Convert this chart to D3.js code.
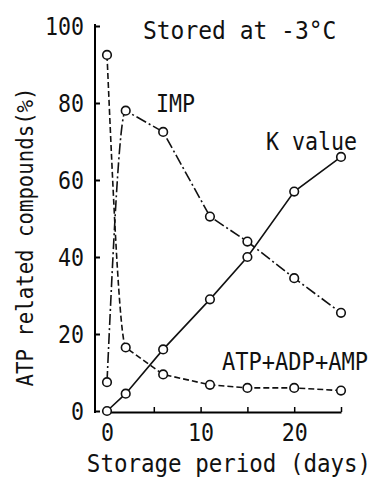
<!DOCTYPE html>
<html>
<head>
<meta charset="utf-8">
<script src="https://d3js.org/d3.v7.min.js"></script>
<style>
  body { margin: 0; background: #fff; }
  text { font-family: "DejaVu Sans Mono", monospace; fill: #111; }
</style>
</head>
<body>
<div id="chart"></div>
<script>
// Storage days and % of ATP related compounds
const days = [0, 2, 6, 11, 15, 20, 25];
const kValue = [0, 4.5, 16, 29, 40, 57, 66];
const imp = [7.5, 78, 72.5, 50.5, 44, 34.5, 25.5];
const atpAdpAmp = [92.5, 16.5, 9.5, 6.8, 6, 6, 5.3];

const xTicks = [0, 5, 10, 15, 20, 25];
const xTickLabels = [0, 10, 20];
const yTicks = [0, 20, 40, 60, 80, 100];

const width = 377, height = 479;
const squeeze = 0.9; // the typewriter lettering is narrow and tall

const svg = d3.select('#chart')
    .append('svg')
    .attr('width', width)
    .attr('height', height);

const x = d3.scaleLinear().domain([0, 25]).range([107, 341]);
const y = d3.scaleLinear().domain([0, 100]).range([411, 26]);

function squeezeText(sel) {
    sel.each(function() {
        const t = d3.select(this);
        const tx = +t.attr('x') || 0;
        t.attr('transform', `translate(${tx},0) scale(${squeeze},1) translate(${-tx},0)`);
    });
}

// y axis sits a bit left of day 0, ticks point inward
const yAxis = svg.append('g')
    .attr('transform', 'translate(95,0)')
    .call(d3.axisLeft(y).tickValues(yTicks).tickSizeInner(-5).tickSizeOuter(0).tickPadding(11));
yAxis.select('.domain').attr('d', 'M0,' + (y(100) - 2) + 'V' + (y(0) + 2))
    .attr('stroke-width', 2);
yAxis.selectAll('.tick line').attr('stroke-width', 2);
yAxis.selectAll('text').style('font-size', '24px').attr('dy', '0.36em').call(squeezeText);

const xAxis = svg.append('g')
    .attr('transform', 'translate(0,412)')
    .call(d3.axisBottom(x).tickValues(xTicks).tickSizeInner(-5).tickSizeOuter(0).tickPadding(10)
        .tickFormat(d => xTickLabels.includes(d) ? d : ''));
xAxis.select('.domain').attr('stroke-width', 2);
xAxis.selectAll('.tick line').attr('stroke-width', 1.5);
xAxis.selectAll('text').style('font-size', '24px').attr('dy', '0.8em')
    .attr('transform', `scale(${squeeze},1)`);

const series = [
    { values: kValue, dash: null, bend: false },
    { values: imp, dash: '11,3,2,3', bend: true },
    { values: atpAdpAmp, dash: '6,3', bend: true }
];

const smooth = d3.line()
    .x(d => x(d[0]))
    .y(d => y(d[1]))
    .curve(d3.curveMonotoneX);
const straight = d3.line()
    .x(d => x(d[0]))
    .y(d => y(d[1]));

series.forEach(s => {
    const pts = days.map((d, i) => [d, s.values[i]]);
    let d;
    if (s.bend) {
        // only the steep first segment is curved; keep its monotone cubic and go straight after
        const first = smooth(pts.slice(0, 3)).split('C').slice(0, 2).join('C');
        d = first + straight(pts.slice(1)).replace(/^M/, 'L');
    } else {
        d = straight(pts);
    }
    svg.append('path')
        .attr('d', d)
        .attr('fill', 'none')
        .attr('stroke', '#111')
        .attr('stroke-width', 1.6)
        .attr('stroke-dasharray', s.dash);
    svg.append('g')
        .selectAll('circle')
        .data(pts)
        .join('circle')
        .attr('cx', p => x(p[0]))
        .attr('cy', p => y(p[1]))
        .attr('r', 4.3)
        .attr('fill', '#fff')
        .attr('stroke', '#111')
        .attr('stroke-width', 1.6);
});

// labels
function label(px, py, str, size, anchor) {
    return svg.append('text')
        .attr('x', px).attr('y', py)
        .attr('text-anchor', anchor || 'start')
        .style('font-size', size + 'px')
        .text(str)
        .call(squeezeText);
}
label(143, 39, 'Stored at -3°C', 25.5);
label(156, 112, 'IMP', 24);
label(266, 150, 'K value', 24);
label(222, 370, 'ATP+ADP+AMP', 24.5);
label(229, 472, 'Storage period (days)', 25, 'middle');

svg.append('text')
    .attr('transform', `translate(33,237) rotate(-90) scale(${squeeze},1)`)
    .attr('text-anchor', 'middle')
    .style('font-size', '23px')
    .text('ATP related compounds(%)');
</script>
</body>
</html>
